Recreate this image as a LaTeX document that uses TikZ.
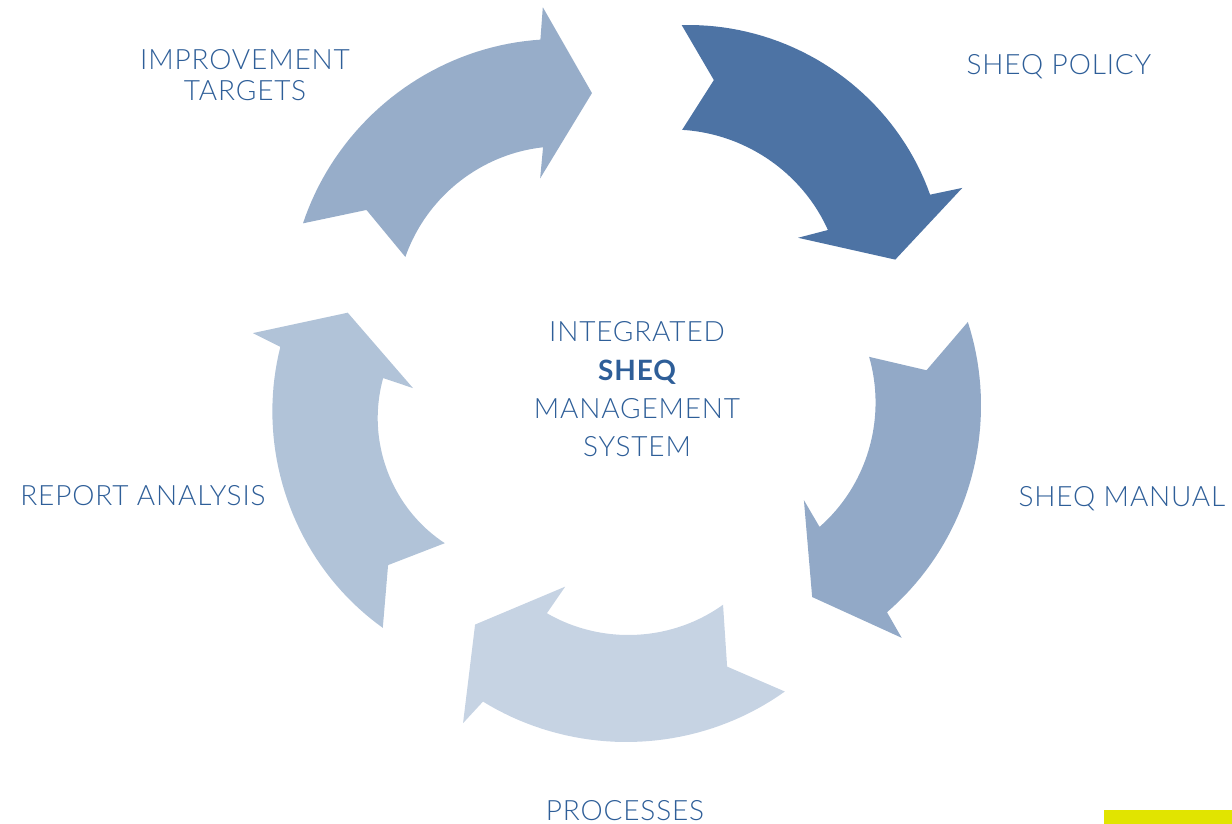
\documentclass[tikz,border=0pt]{standalone}
\usepackage{fontspec}
\IfFontExistsTF{Lato Light}
  {\setmainfont{Lato Light}[LetterSpace=3,BoldFont=Lato Bold]}
  {\setmainfont{Lato}[LetterSpace=3]}
\definecolor{cDark}{HTML}{4D73A4}
\definecolor{cTL}{HTML}{97ADC9}
\definecolor{cR}{HTML}{92A9C7}
\definecolor{cL}{HTML}{B1C3D8}
\definecolor{cB}{HTML}{C6D3E3}
\definecolor{txt}{HTML}{2E5E98}
\definecolor{yellowbar}{HTML}{E1E400}
\begin{document}
\begin{tikzpicture}[x=1pt,y=1pt,
  declare function={qr(\qt,\qa,\qr,\qb,\qs,\qc,\qu)=\qr*((\qt-\qb)/(\qa-\qb))*((\qt-\qc)/(\qa-\qc))+\qs*((\qt-\qa)/(\qb-\qa))*((\qt-\qc)/(\qb-\qc))+\qu*((\qt-\qa)/(\qc-\qa))*((\qt-\qb)/(\qc-\qb));},
  lbl/.style={inner sep=0pt,anchor=base,text=txt,text depth=0pt,font=\fontsize{28}{34}\selectfont},
  lblb/.style={lbl,font=\fontsize{28}{34}\selectfont\bfseries},
  smp/.style={samples=40,variable=\t}]
\useasboundingbox (0,0) rectangle (1232,-824);
\begin{scope}[shift={(627,-387)}]
% top-left arrow
\fill[cTL] (153.2:363) -- plot[smp,domain=153.2:104] ({qr(\t,153.2,363,127,373,104,358)*cos(\t)},{qr(\t,153.2,363,127,373,104,358)*sin(\t)})
  -- (102.5:389) -- (96.8:296) -- (112.6:226) -- (109.3:254)
  -- plot[smp,domain=109.3:149.6] ({qr(\t,109.3,254,128,265,149.6,257)*cos(\t)},{qr(\t,109.3,254,128,265,149.6,257)*sin(\t)})
  -- (145.8:315) -- cycle;
% top-right arrow
\fill[cDark] (81.4:366) -- plot[smp,domain=81.4:32.4] ({qr(\t,81.4,366,55,378,32.4,359)*cos(\t)},{qr(\t,81.4,366,55,378,32.4,359)*sin(\t)})
  -- (30.7:390) -- (25.4:297) -- (41.1:227) -- (38:255)
  -- plot[smp,domain=38:77.9] ({qr(\t,38,255,58,268,77.9,263)*cos(\t)},{qr(\t,38,255,58,268,77.9,263)*sin(\t)})
  -- (74.2:319) -- cycle;
% right arrow
\fill[cR] (10.8:347) -- plot[smp,domain=10.8:-40.9] ({qr(\t,10.8,347,-10,356,-40.9,344)*cos(\t)},{qr(\t,10.8,347,-10,356,-40.9,344)*sin(\t)})
  -- (-42.4:372) -- (-48.6:280) -- (-32.6:210) -- (-36:238)
  -- plot[smp,domain=-36:7.1] ({qr(\t,-36,238,-12,250,7.1,244)*cos(\t)},{qr(\t,-36,238,-12,250,7.1,244)*sin(\t)})
  -- (3.2:300) -- cycle;
% bottom arrow
\fill[cB] (-62.6:343) -- plot[smp,domain=-62.6:-114.6] ({qr(\t,-62.6,343,-90,355,-114.6,346)*cos(\t)},{qr(\t,-62.6,343,-90,355,-114.6,346)*sin(\t)})
  -- (-116:374) -- (-122.6:282) -- (-107.2:209) -- (-109.5:240)
  -- plot[smp,domain=-109.5:-66.2] ({qr(\t,-109.5,240,-90,248,-66.2,238)*cos(\t)},{qr(\t,-109.5,240,-90,248,-66.2,238)*sin(\t)})
  -- (-70.3:297) -- cycle;
% left arrow
\fill[cL] (224.6:343) -- plot[smp,domain=224.6:173.4] ({qr(\t,224.6,343,195,358,173.4,349)*cos(\t)},{qr(\t,224.6,343,195,358,173.4,349)*sin(\t)})
  -- (171.8:378) -- (165.1:289) -- (180.3:214) -- (177.9:244)
  -- plot[smp,domain=177.9:220.6] ({qr(\t,177.9,244,196,254,220.6,240)*cos(\t)},{qr(\t,177.9,244,196,254,220.6,240)*sin(\t)})
  -- (216.7:298) -- cycle;
\end{scope}
% labels
\node[lbl] (imp) at (245,-70) {IMPROVEMENT};
\node[lbl] (tar) at (245,-101) {TARGETS};
\node[lbl] (pol) at (1059,-75) {SHEQ POLICY};
\node[lbl] (man) at (1122,-506) {SHEQ MANUAL};
\node[lbl] (rep) at (143,-505) {REPORT ANALYSIS};
\node[lbl] (pro) at (625,-820) {PROCESSES};
\node[lbl] (int) at (637,-341) {INTEGRATED};
\node[lblb] (sheq) at (637,-380) {SHEQ};
\node[lbl] (mgt) at (637,-418) {MANAGEMENT};
\node[lbl] (sys) at (637,-456) {SYSTEM};
% yellow bar
\fill[fill=yellowbar] (1104,-810) rectangle (1232,-824);
\end{tikzpicture}
\end{document}
